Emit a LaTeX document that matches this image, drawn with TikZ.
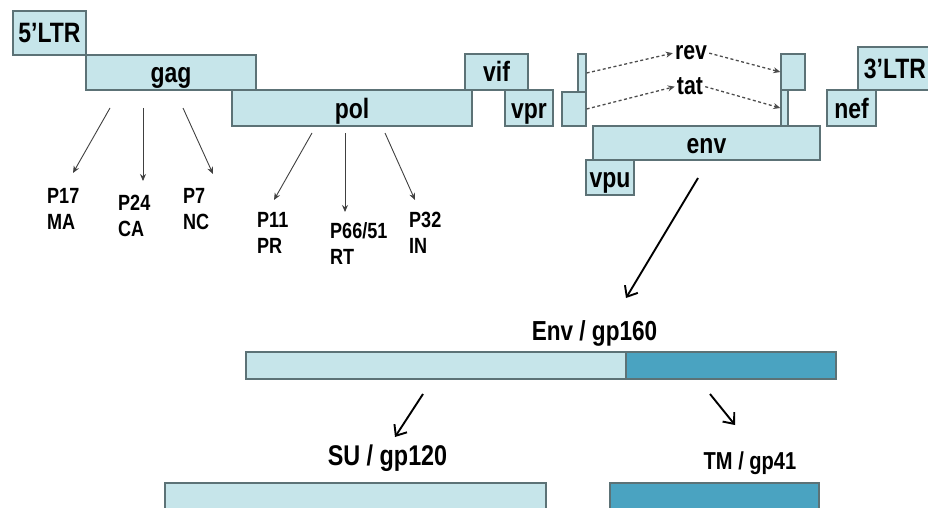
\documentclass[tikz,border=0pt]{standalone}
\usepackage{fontspec}
\setmainfont{Liberation Sans}[FakeStretch=0.82]
\usetikzlibrary{arrows.meta}
\definecolor{lightc}{RGB}{198,229,234}
\definecolor{darkc}{RGB}{74,163,193}
\definecolor{edgec}{RGB}{92,114,118}
\begin{document}
\begin{tikzpicture}[x=1pt,y=-1pt,
  gbox/.style={draw=edgec, line width=1.3pt, fill=lightc, inner sep=0pt,
    font=\fontsize{28}{30}\selectfont\bfseries, text height=20pt, text depth=0pt},
  dbox/.style={gbox, fill=darkc},
  plab/.style={inner sep=0pt, align=left, font=\fontsize{22}{26}\selectfont\bfseries},
  tlab/.style={inner sep=2pt, font=\fontsize{26}{28}\selectfont\bfseries},
  parr/.style={draw=black!75, line width=0.9pt, -{Stealth[length=7pt,width=6pt]}},
  barr/.style={draw=black, line width=1.9pt, -{Straight Barb[length=9pt,width=15pt]}},
  darr/.style={draw=black!70, line width=1.3pt, dash pattern=on 3pt off 2.5pt, -{Stealth[length=7pt,width=6pt]}}
]
\useasboundingbox (0,0) rectangle (928,508);
% genome boxes
\node[gbox, minimum width=73pt, minimum height=44pt] (ltr5) at (49.5,33) {5'LTR};
\node[gbox, minimum width=170pt, minimum height=35pt] (gag) at (171,72.5) {gag};
\node[gbox, minimum width=240pt, minimum height=36pt] (pol) at (352,108) {pol};
\node[gbox, minimum width=63pt, minimum height=36pt] (vif) at (496.5,72) {vif};
\node[gbox, minimum width=48pt, minimum height=36pt] (vpr) at (529,108) {vpr};
\node[gbox, minimum width=8pt, minimum height=38pt] (revL) at (582,73) {};
\node[gbox, minimum width=24pt, minimum height=34pt] (tatL) at (574,109) {};
\node[gbox, minimum width=227pt, minimum height=34pt] (env) at (706.5,143) {env};
\node[gbox, minimum width=48pt, minimum height=35pt] (vpu) at (610,177.5) {vpu};
\node[gbox, minimum width=24pt, minimum height=36pt] (revR) at (793,72) {};
\node[gbox, minimum width=7pt, minimum height=36pt] (tatR) at (784.5,108) {};
\node[gbox, minimum width=49pt, minimum height=36pt] (nef) at (851.5,108) {nef};
\node[gbox, minimum width=74pt, minimum height=43pt] (ltr3) at (895,68.5) {3'LTR};
% rev / tat
\node[tlab, anchor=base] (rev) at (691,60) {rev};
\node[tlab, anchor=base] (tat) at (690,95) {tat};
\draw[darr] (revL.east) -- (rev.west);
\draw[darr] (rev.east) -- (revR.west);
\draw[darr] (tatL.east) -- (tat.west);
\draw[darr] (tat.east) -- (tatR.west);
% gag products
\node[plab, anchor=north west] (p17) at (47,188) {P17\\MA};
\node[plab, anchor=north west] (p24) at (118,195) {P24\\CA};
\node[plab, anchor=north west] (p7) at (183,188) {P7\\NC};
\coordinate (g1) at (110,108); \coordinate (g1t) at (73,173);
\coordinate (g2) at (143,108); \coordinate (g2t) at (143,181);
\coordinate (g3) at (183,108); \coordinate (g3t) at (213,174);
\draw[parr] (g1) -- (g1t);
\draw[parr] (g2) -- (g2t);
\draw[parr] (g3) -- (g3t);
% pol products
\node[plab, anchor=north west] (p11) at (257,212) {P11\\PR};
\node[plab, anchor=north west] (p66) at (330,222) {P66/51\\RT};
\node[plab, anchor=north west] (p32) at (409,212) {P32\\IN};
\coordinate (q1) at (312,133); \coordinate (q1t) at (274,200);
\coordinate (q2) at (345,133); \coordinate (q2t) at (345,212);
\coordinate (q3) at (385,133); \coordinate (q3t) at (415,200);
\draw[parr] (q1) -- (q1t);
\draw[parr] (q2) -- (q2t);
\draw[parr] (q3) -- (q3t);
% Env precursor
\coordinate (e0) at (698,178); \coordinate (e1) at (626,298);
\draw[barr] (e0) -- (e1);
\node[tlab, inner sep=0pt, anchor=base, font=\fontsize{27.5}{29}\selectfont\bfseries] (envlab) at (594.5,340) {Env / gp160};
\node[gbox, minimum width=380pt, minimum height=27pt] (envL) at (436,365.5) {};
\node[dbox, minimum width=210pt, minimum height=27pt] (envR) at (731,365.5) {};
% SU / TM
\coordinate (s0) at (423,394); \coordinate (s1) at (395,437);
\coordinate (t0) at (710,394); \coordinate (t1) at (735,425);
\draw[barr] (s0) -- (s1);
\draw[barr] (t0) -- (t1);
\node[tlab, inner sep=0pt, anchor=base, font=\fontsize{28.5}{30}\selectfont\bfseries] (sulab) at (387.5,465) {SU / gp120};
\node[tlab, inner sep=0pt, anchor=base, font=\fontsize{24.5}{26}\selectfont\bfseries] (tmlab) at (750,469) {TM / gp41};
\node[gbox, minimum width=381pt, minimum height=40pt] (su) at (355.5,503) {};
\node[dbox, minimum width=209pt, minimum height=40pt] (tm) at (714.5,503) {};
\end{tikzpicture}
\end{document}
